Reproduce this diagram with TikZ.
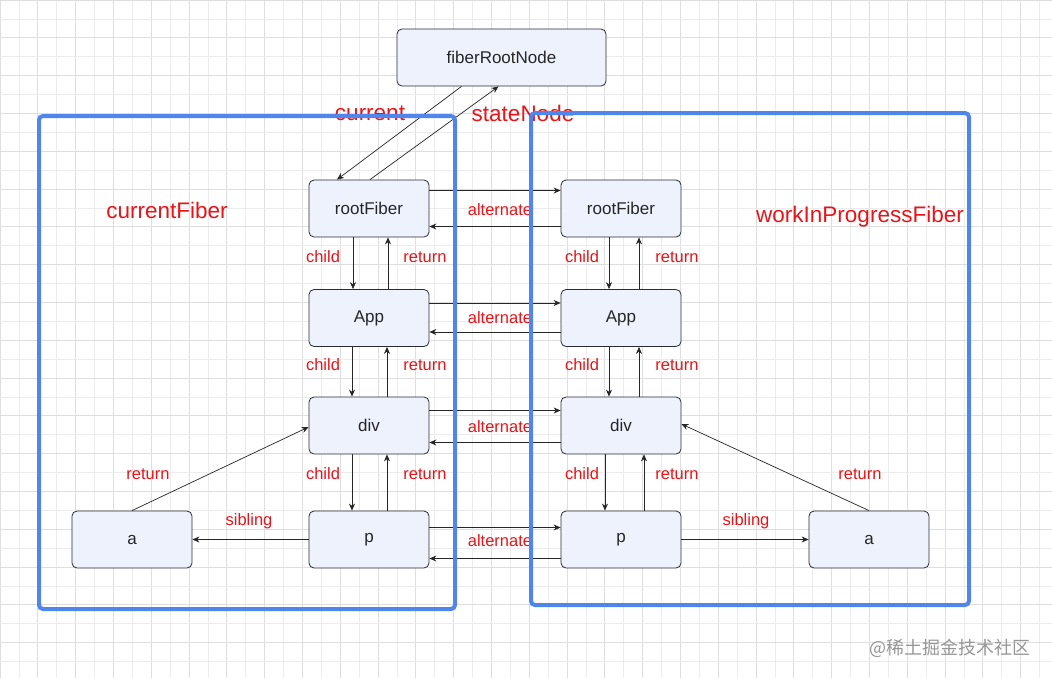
\documentclass[tikz,border=0pt]{standalone}
\usepackage{fontspec}
\setmainfont{Liberation Sans}
\newfontfamily\cjk{Noto Sans CJK SC}
\usetikzlibrary{arrows.meta,calc}
\definecolor{gridminor}{RGB}{236,236,236}
\definecolor{gridmajor}{RGB}{222,222,222}
\definecolor{nodefill}{RGB}{238,242,253}
\definecolor{nodeborder}{RGB}{40,44,56}
\definecolor{lblred}{RGB}{232,20,24}
\definecolor{boxblue}{RGB}{80,134,236}
\definecolor{wmgray}{RGB}{150,150,150}
\tikzset{
  fnode/.style={draw=nodeborder, fill=nodefill, rounded corners=5pt, line width=0.8pt,
    minimum width=120pt, minimum height=57pt, inner sep=0pt, font=\fontsize{17}{19}\selectfont, text=black!85},
  arr/.style={draw=black!85, line width=0.7pt, -{Stealth[length=7pt,width=6pt]}},
  lbl/.style={text=lblred, font=\fontsize{16.5}{18}\selectfont, inner sep=0pt},
  biglbl/.style={text=lblred, font=\fontsize{22.5}{24}\selectfont, inner sep=0pt},
  bluebox/.style={draw=boxblue, line width=4pt, rounded corners=4pt},
}
\begin{document}
\begin{tikzpicture}[x=1pt,y=-1pt]
\useasboundingbox (0,0) rectangle (1052,678);
\fill[white] (0,0) rectangle (1052,678);
% grid
\foreach \i in {0,...,56} {
  \pgfmathsetmacro{\xx}{\i*18.9}
  \pgfmathtruncatemacro{\ev}{mod(\i,2)}
  \ifnum\ev=0
    \draw[gridmajor, line width=0.8pt] (\xx,0) -- (\xx,678);
  \else
    \draw[gridminor, line width=0.8pt] (\xx,0) -- (\xx,678);
  \fi
}
\foreach \i in {0,...,36} {
  \pgfmathsetmacro{\yy}{\i*18.9}
  \pgfmathtruncatemacro{\ev}{mod(\i,2)}
  \ifnum\ev=0
    \draw[gridmajor, line width=0.8pt] (0,\yy) -- (1052,\yy);
  \else
    \draw[gridminor, line width=0.8pt] (0,\yy) -- (1052,\yy);
  \fi
}
% nodes
\node[fnode, minimum width=209pt] (root) at (501.5,57.5) {fiberRootNode};
\node[fnode] (rf1) at (369,208.5) {rootFiber};
\node[fnode] (app1) at (369,318) {App};
\node[fnode] (div1) at (369,425.5) {div};
\node[fnode] (p1) at (369,539.5) {p};
\node[fnode] (a1) at (132,539.5) {a};
\node[fnode] (rf2) at (621,208.5) {rootFiber};
\node[fnode] (app2) at (621,318) {App};
\node[fnode] (div2) at (621,425.5) {div};
\node[fnode] (p2) at (621,539.5) {p};
\node[fnode] (a2) at (869,539.5) {a};
% current / stateNode
\draw[arr] ([xshift=-40pt]root.south) -- ([xshift=-32pt]rf1.north);
\draw[arr] ([xshift=1pt]rf1.north) -- ([xshift=-3pt]root.south);
% alternate
\draw[arr] ([yshift=18pt]rf1.east) -- ([yshift=18pt]rf2.west);
\draw[arr] ([yshift=-18pt]rf2.west) -- ([yshift=-18pt]rf1.east);
\draw[arr] ([yshift=15pt]app1.east) -- ([yshift=15pt]app2.west);
\draw[arr] ([yshift=-14pt]app2.west) -- ([yshift=-14pt]app1.east);
\draw[arr] ([yshift=15pt]div1.east) -- ([yshift=15pt]div2.west);
\draw[arr] ([yshift=-17pt]div2.west) -- ([yshift=-17pt]div1.east);
\draw[arr] ([yshift=12pt]p1.east) -- ([yshift=12pt]p2.west);
\draw[arr] ([yshift=-19pt]p2.west) -- ([yshift=-19pt]p1.east);
% child / return left
\draw[arr] ([xshift=-16pt]rf1.south) -- ([xshift=-16pt]app1.north);
\draw[arr] ([xshift=19pt]app1.north) -- ([xshift=19pt]rf1.south);
\draw[arr] ([xshift=-17pt]app1.south) -- ([xshift=-17pt]div1.north);
\draw[arr] ([xshift=18pt]div1.north) -- ([xshift=18pt]app1.south);
\draw[arr] ([xshift=-17pt]div1.south) -- ([xshift=-17pt]p1.north);
\draw[arr] ([xshift=18pt]p1.north) -- ([xshift=18pt]div1.south);
% child / return right
\draw[arr] ([xshift=-12pt]rf2.south) -- ([xshift=-12pt]app2.north);
\draw[arr] ([xshift=18pt]app2.north) -- ([xshift=18pt]rf2.south);
\draw[arr] ([xshift=-12pt]app2.south) -- ([xshift=-12pt]div2.north);
\draw[arr] ([xshift=18pt]div2.north) -- ([xshift=18pt]app2.south);
\draw[arr] ([xshift=-16pt]div2.south) -- ([xshift=-16pt]p2.north);
\draw[arr] ([xshift=23pt]p2.north) -- ([xshift=23pt]div2.south);
% sibling
\draw[arr] (p1.west) -- (a1.east);
\draw[arr] (p2.east) -- (a2.west);
% return diagonals
\draw[arr] (a1.north) -- ([yshift=-1.5pt]div1.west);
\draw[arr] (a2.north) -- ([yshift=1.5pt]div2.east);
% labels
\node[biglbl] (lcur) at (370,113) {current};
\node[biglbl] (lsn) at (523,113) {stateNode};
\node[biglbl] (lcf) at (167,210) {currentFiber};
\node[biglbl] (lwf) at (860,217) {workInProgressFiber};
\foreach \yy/\nm in {210/alt1, 318/alt2, 427/alt3, 541/alt4} {
  \node[lbl] (\nm) at (500,\yy) {alternate};
}
\foreach \yy/\nm in {257/c1, 365/c2, 474/c3} {
  \node[lbl] (\nm l) at (323,\yy) {child};
  \node[lbl] (\nm r) at (582,\yy) {child};
}
\foreach \yy/\nm in {257/r1, 365/r2, 474/r3} {
  \node[lbl] (\nm l) at (425,\yy) {return};
  \node[lbl] (\nm r) at (677,\yy) {return};
}
\node[lbl] (ra1) at (148,474) {return};
\node[lbl] (ra2) at (860,474) {return};
\node[lbl] (sb1) at (249,521) {sibling};
\node[lbl] (sb2) at (746,521) {sibling};
% blue boxes
\draw[bluebox] (39,116) rectangle (455,609);
\draw[bluebox] (531,113) rectangle (969,605);
% watermark
\node[text=wmgray, font=\cjk\fontsize{18}{20}\selectfont, inner sep=0pt] (wm) at (950,648) {@稀土掘金技术社区};
\end{tikzpicture}
\end{document}
